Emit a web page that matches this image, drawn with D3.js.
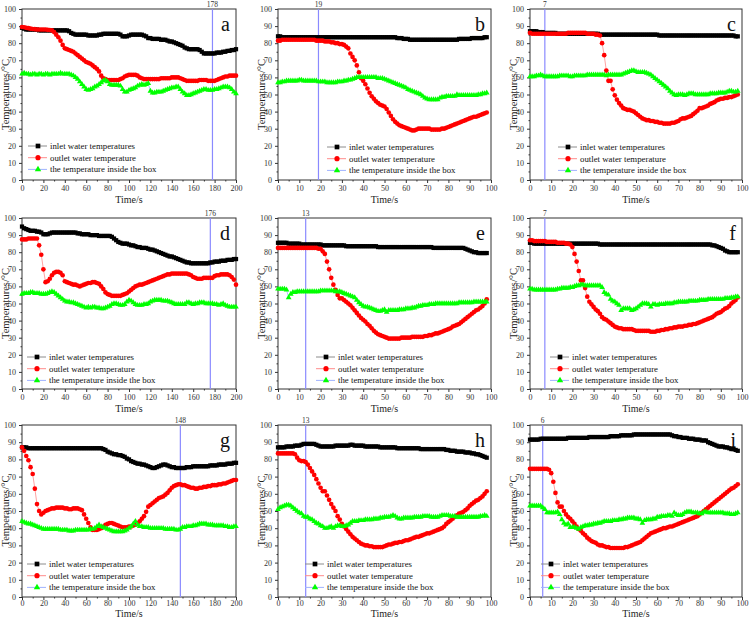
<!DOCTYPE html>
<html>
<head>
<meta charset="utf-8">
<script src="https://cdn.jsdelivr.net/npm/d3@7"></script>
<style>
  html, body { margin: 0; padding: 0; background: #fff; }
  svg { display: block; }
  svg text { font-family: "Liberation Serif", "Times New Roman", Times, serif; }
</style>
</head>
<body>
<svg id="chart" width="750" height="619" font-family="Liberation Serif"></svg>
<script>
// =====================================================
// Data (temperatures in °C)
// =====================================================
const seriesNames = ["inlet water temperatures", "outlet water temperature", "the temperature inside the box"];
const panelLabels = ["a", "b", "c", "d", "e", "f", "g", "h", "i"];
const markerTimes = [178, 19, 7, 176, 13, 7, 148, 13, 6];
const xMaxes      = [200, 100, 100, 200, 100, 100, 200, 100, 100];
const yTicks      = [0, 10, 20, 30, 40, 50, 60, 70, 80, 90, 100];

// sampling grids: long runs every 2 s (0..200), short runs every 1 s (0..98)
const timeLong  = d3.range(0, 201, 2);
const timeShort = d3.range(0, 99, 1);

// ---- a
const inletA = [
  89,88.5,88,88,88,88,88,88,87.5,87.5,
  87.5,87.5,87.5,87.5,87.5,87.5,87.5,87.5,87.5,87.5,
  87.5,87.5,87,86,85.5,85,85,85,85,85,
  85,84.5,84.5,84.5,84.5,84.5,85,85,85.5,85.5,
  85.5,85.5,85.5,85.5,85.5,85.5,85,84,84,84,
  84.5,85,85,85,85,85,85,84.5,84,83,
  83,82.5,82.5,82.5,82.5,82,82,82,81.5,81,
  81,80.5,80,79.5,79,78.5,77.5,77,76.5,76.5,
  76.5,76.5,76.5,76,75,74,74,74,74,74,
  74,74.5,74.5,74.5,75,75,75.5,75.5,76,76,
  76.5];
const outletA = [
  89.5,89.3,89,88.8,88.5,88.3,88.2,88,88,88,
  88,88,87.8,87.7,87.5,86.5,85,83.5,81.5,79,
  77,76.5,76,75.5,75,74,73,72,71,70,
  69,68.5,68,67,66,65,63.5,61,59.5,59,
  58.5,58.5,58.5,58.5,58.5,58.5,59,59.5,60.5,61,
  61.5,61.5,61.5,61.5,61,60,59.5,59,59,59,
  59,59,59,59,59,59.5,59.5,59.5,59.5,59.5,
  60,60,60,60,59.5,59,58.5,58,58,58,
  58,58,58,58.5,58.5,58.5,58.5,58,58,58,
  58,58.5,59,59.5,60,60.5,60.5,61,61,61,
  61];
const boxA = [
  62,62.5,62,62,61.5,62,62,61.5,62,62,
  61.5,62,62,61.5,62,62,62,62,62.5,62,
  62,62,62,61.5,61,60,59,57.5,56,54.5,
  53,52.5,53,53.5,54.5,55,56,57,58,58.5,
  57.5,56,55.5,55.5,55.5,55.5,55,53,51.5,51.5,
  52.5,53,53.5,54,55,55.5,56,55.5,56,56.5,
  52,51,51,51.5,51.5,51.5,52,52.5,53,53.5,
  54,54,54.5,54.5,53,51.5,50.5,49.5,49.5,50,
  50.5,51,51.5,52,52.5,53,53,52.5,52.5,52.5,
  53,53,53.5,54,54.5,54.5,54.5,54,53,51.5,
  50.5];

// ---- b
const inletB = [
  84,84,83.5,83.5,83.5,83.5,83.5,83.5,83.5,83.5,
  83.5,83.5,83.5,83.5,83.5,83.5,83.5,83.5,83.5,83.5,
  83.5,83.5,83.5,83.5,83.5,83.5,83.5,83.5,83.5,83.5,
  83.5,83.5,83.5,83.5,83.5,83.5,83.5,83.5,83.5,83.5,
  83.5,83.5,83.5,83.5,83.5,83.5,83.5,83.5,83.5,83.5,
  83.5,83.5,83.5,83.5,83.5,83.5,83,83,83,82.5,
  82.5,82.5,82,82,82,82,82,82,82,82,
  82,82,82,82,82,82,82,82,82,82,
  82,82,82,82,82,82.5,82.5,82.5,82.5,82.5,
  82.5,83,83,83,83,83,83,83.5,83.5];
const outletB = [
  81.5,81.5,82,82,82,82,82,82,82,82,
  82,82,82,82,82,82,82,82,81.5,81.5,
  81.5,81.5,81,81,81,80.5,80.5,80,80,79.5,
  79.5,79,78,77,74,72,70,67,63,59.5,
  58,56,53.5,51,49,47.5,46,45,44,43.5,
  43,41.5,39.5,37.5,35.5,34,33,32,31.5,31,
  30.5,30,29.5,29,29,29.5,30,30,30,30,
  30,30,29.5,29.5,29.5,29.5,29.5,30,30,30.5,
  31,31.5,32,32.5,33,33.5,34,34.5,35,35.5,
  36,36.5,37,37,37.5,38,38.5,39,39.5];
const boxB = [
  57,57,57.5,57.5,58,58,58,58,58,58,
  58.5,58.5,58,58,58,58,58,58,58,57.5,
  57.5,57.5,57.5,57,57,57,57,57,57.5,57.5,
  57.5,58,58,58.5,58.5,59,59.5,60,60,60,
  60,60,60,60,60,60,60,59.5,59.5,59.5,
  59,58.5,58,57.5,57,56.5,56,55.5,55,54.5,
  54,53,52.5,52,51.5,51,50.5,50,49,48,
  47.5,47,47,47,47,47,48,48.5,48.5,49,
  49,49,49,49,50,49.5,49.5,49.5,49.5,49.5,
  49.5,49.5,49.5,49.5,50,50,50.5,50.5,51];

// ---- c
const inletC = [
  87,87,87,87,86.5,86.5,86.5,86,86,86,
  86,86,86,85.5,85.5,85.5,85.5,85.5,85.5,85.5,
  85.5,85.5,85.5,85.5,85.5,85.5,85.5,85.5,85.5,85.5,
  85.5,85.5,85.5,85,85,85,85,85,85,85,
  85,85,85,85,85,85,85,85,85,85,
  85,85,85,85,85,85,85,85,85,85,
  85,84.5,84.5,84.5,84.5,84.5,84.5,84.5,84.5,84.5,
  84.5,84.5,84.5,84.5,84.5,84.5,84.5,84.5,84.5,84.5,
  84.5,84.5,84.5,84.5,84.5,84.5,84.5,84.5,84.5,84.5,
  84.5,84.5,84.5,84.5,84.5,84.5,84.5,84,84];
const outletC = [
  86,85.5,85.5,85.5,85.5,85.5,85.5,85.5,85.5,85.5,
  85.5,85.5,85.5,85.5,85.5,85.5,85.5,85.5,86,86,
  86,86,86,86,86,86,86,85.5,85.5,85.5,
  85.5,85,85,84.5,80,73,64,58,58,53,
  49.5,47,45,43.5,42,41.5,41,41,40.5,40,
  39,38,37,36,35.5,35,35,34.5,34.5,34,
  34,33.5,33.5,33,33,33,33,33.5,33.5,34,
  34.5,35.5,36,36,36.5,37,37.5,38.5,39.5,40.5,
  42,42,42.5,43,43.5,44.5,45,45.5,46.5,47,
  47.5,47.5,48,48,48.5,48.5,49,49.5,50];
const boxC = [
  60.5,60.5,60.5,61,61,61.5,61,60.5,60.5,60.5,
  60.5,60.5,60.5,60.5,61,61,61,61,61,60.5,
  60.5,61,61,61,61,61,61,61.5,61.5,61.5,
  61.5,61.5,61.5,61.5,61.5,61.5,61,61.5,61.5,61.5,
  61.5,61.5,61.5,61.5,62,62.5,63,63.5,64,64,
  63.5,63,63,63,63,62.5,62,61.5,60.5,59.5,
  58.5,57.5,56.5,55.5,54.5,53.5,52,51,50,49.5,
  50,50,50,49.5,50,50.5,50.5,50.5,50,50,
  50,50,50,50,50,50.5,50.5,50.5,50.5,51,
  51,51,51,51.5,52,52,51.5,51.5,52];

// ---- d
const inletD = [
  95,94,93.5,93,92.5,92.5,92.5,92,92,91.5,
  90.5,90.5,90.5,91,91.5,91.5,91.5,91.5,91.5,91.5,
  91.5,91.5,91.5,91.5,91.5,91.5,91,91,90.5,90.5,
  90.5,90.5,90,90,90,90,89.5,89.5,89.5,89.5,
  89.5,89.5,89,88,87,86,85.5,85,85,85,
  84.5,84,84,83.5,83,83,82.5,82.5,82.5,82,
  81.5,81.5,81,80.5,80,79.5,79,78.5,78,77.5,
  77.5,77,76.5,76,75.5,75,74.5,74,74,73.5,
  73.5,73.5,73.5,73.5,73.5,73.5,73.5,73.5,74,74,
  74.5,74.5,74.5,75,75,75,75.5,75.5,75.5,76,
  76];
const outletD = [
  87.5,87.5,87.5,88,88,88,88,88,84,78.5,
  70,62.5,63,64.5,66.5,68,68.5,68.5,68,66.5,
  63,62.5,62,61.5,61,61,60.5,60,60.5,61,
  61.5,62,62,62.5,62.5,62,61.5,60,58.5,56.5,
  55.5,55,54.5,54.5,54.5,54.5,54.5,55,55.5,56,
  57,58,59,60,60.5,61,61,61.5,62,62.5,
  63,63.5,64,64.5,65,65.5,66,66.5,67,67,
  67.5,67.5,67.5,67.5,67.5,67.5,67.5,67.5,67,66.5,
  65.5,65,64.5,64.5,64.5,65,65,65,65,65,
  66,66.5,66.5,67,67,67,67,66.5,65.5,64,
  61];
const boxD = [
  55.5,56,56,56,56.5,56.5,56,56,56,55.5,
  55.5,55.5,56,56.5,57,56.5,55.5,54.5,53.5,52.5,
  51.5,51,51,50.5,50.5,50,49.5,49,48.5,48,
  47.5,48,47.5,48,48,47.5,47.5,47,47,47.5,
  48,48.5,49.5,50,50,49.5,49,49,49.5,51,
  52,51.5,50.5,49.5,49,49,49,49.5,49.5,50,
  51,51.5,52,52,52,52,51.5,51.5,51.5,51,
  50.5,50,49.5,49.5,49.5,49.5,49.5,50.5,50.5,50,
  49.5,50,50,50.5,50.5,50.5,50,50,50,50,
  49.5,49.5,49,49.5,50,49,48.5,48,48,48,
  48];

// ---- e
const inletE = [
  85.5,85.5,85.5,85.5,85.5,85,85,85,85,85,
  85,84.5,84.5,84.5,84.5,84.5,84.5,84.5,84.5,84.5,
  84.5,84,84,84,84,84,84,84,84,84,
  84,84,83.5,83.5,83.5,83.5,83.5,83.5,83.5,83.5,
  83.5,83.5,83.5,83.5,83.5,83.5,83.5,83,83,83,
  83,83,83,83,83,83,83,83,83,83,
  83,83,83,83,83,83,83,83,83,83,
  83,83,83,82.5,82.5,82.5,82.5,82.5,82.5,82.5,
  82.5,82.5,82.5,82.5,82.5,82.5,82.5,82.5,82,81.5,
  81,80.5,80,80,79.5,79.5,79.5,79.5,79.5];
const outletE = [
  82.5,82.5,82.5,82.5,82.5,82.5,82.5,82.5,82.5,82.5,
  82.5,82.5,82.5,82.5,82.5,82.5,82.5,82.5,82.5,82,
  82,80.5,79,74.5,70,65,61,58,55,53,
  53,52,51,50,49,47.5,46,44.5,43,41.5,
  40.5,39.5,38,37,35.5,34,33,32,31.5,31,
  30.5,30,29.5,29.5,29.5,29.5,29.5,29.5,30,30,
  30,30,30,30.5,30.5,30.5,30.5,30.5,30.5,31,
  31,31.5,31.5,32,32.5,32.5,33,33.5,34,34.5,
  35,35.5,36.5,37,37.5,38,39,40,41,42,
  43,44,45,46,46.5,47.5,48.5,50,52.5];
const boxE = [
  58.5,58.5,58.5,58.5,58,53.5,55.5,56.5,56.5,57,
  57,57,57,57,57,57,57,57,57,57,
  57.5,57.5,57.5,57.5,57.5,57.5,57.5,57,57,57,
  56.5,56,55.5,55,54.5,54,53.5,52,50.5,49.5,
  48.5,48,48,47.5,47,46.5,46,45.5,45.5,46,
  46.5,45,46,46,46,46,46,46.5,46.5,46.5,
  47,47,47,47.5,47.5,48,48.5,48.5,49,49,
  49,49.5,49.5,49.5,50,50,50,50,50,50,
  50,50,50,50,50,50.5,50.5,50.5,50.5,50.5,
  50.5,50.5,51,51,51,51,51,51,51];

// ---- f
const inletF = [
  85.5,85.5,85,85,85,85,85,85,85,85,
  85,85,85,85,85,85,85,85,85,85,
  85,85,85,85,85,85,85,85,85,85,
  85,85,85,84.5,84.5,84.5,84.5,84.5,84.5,84.5,
  84.5,84.5,84.5,84.5,84.5,84.5,84.5,84.5,84.5,84.5,
  84.5,84.5,84.5,84.5,84.5,84.5,84.5,84.5,84.5,84.5,
  84.5,84.5,84.5,84.5,84.5,84.5,84.5,84.5,84.5,84.5,
  84.5,84.5,84.5,84.5,84.5,84.5,84.5,84.5,84.5,84.5,
  84.5,84.5,84.5,84.5,84.5,84.5,84,84,83.5,83,
  82.5,82,81,80.5,80,80,80,80,80];
const outletF = [
  87,87,86.5,86.5,86.5,86.5,86.5,86.5,86,86,
  86,86,86,85.5,85.5,85.5,85.5,85,85,84.5,
  83,79,74.5,69,63.5,63.5,59,54,51,49.5,
  48,46.5,45.5,44,42,41,40.5,39.5,38.5,37.5,
  36.5,36,35.5,35.5,35,35,35,35,35,34.5,
  34,34,34,34,34,34,34,33.5,33.5,33.5,
  34,34,34.5,34.5,35,35,35.5,35.5,36,36,
  36.5,36.5,36.5,37,37,37.5,37.5,38,38,38.5,
  39,39.5,40,40.5,41,41.5,42,43,44,44.5,
  45,46,47,47.5,48.5,50,51,52,53.5];
const boxF = [
  58.5,58.5,58,58,58,58,58,58,58,58,
  58,58,58,58.5,58.5,59,59,59,59,59.5,
  59.5,60,60.5,60.5,61,61,60.5,60.5,60.5,60.5,
  60.5,60.5,60.5,60.5,59.5,56.5,55.5,55,52.5,51.5,
  51,50,49,46,47,47,47,47,46,46.5,
  47,48,49,50,50,50,49.5,48,49.5,49.5,
  49,49.5,49.5,49.5,50,50,50,50,50.5,50.5,
  51,51,51,51,51,51.5,51.5,51.5,51.5,51.5,
  52,52,52,52,52.5,52.5,52.5,52.5,52.5,52.5,
  52.5,52.5,53,53,53,53.5,53.5,54,54];

// ---- g
const inletG = [
  87,87,87,86.5,86.5,86.5,86.5,86.5,86.5,86.5,
  86.5,86.5,86.5,86.5,86.5,86.5,86.5,86.5,86.5,86.5,
  86.5,86.5,86.5,86.5,86.5,86.5,86.5,86.5,86.5,86.5,
  86.5,86.5,86.5,86.5,86.5,86.5,86.5,86.5,86,85.5,
  84.5,84,83.5,83,83,82.5,82.5,82,81.5,80.5,
  80,79,78.5,78,77.5,77.5,77,77,76.5,76,
  75.5,75,75,75.5,76,76.5,77,77,76.5,76,
  75.5,75.5,75,75,75,75,75,75.5,75.5,75.5,
  76,76,76,76,76,76,76,76,76.5,76.5,
  76.5,76.5,77,77,77,77,77.5,77.5,77.5,78,
  78];
const outletG = [
  87,85,82,79.5,75.5,71.5,63,54,50,48,
  49,50,50.5,51,51.5,51.5,52,52,52,52,
  51.5,51.5,51,51,51.5,51.5,51.5,51,50.5,48,
  45.5,43,40.5,39,39,39,39.5,40,41,42,
  42.5,43,43,42.5,42,41.5,41,40.5,40.5,40.5,
  41,41,41.5,42,43,44,45.5,47,49.5,52.5,
  53.5,54.5,55.5,56.5,57.5,58,58.5,59.5,60.5,62,
  63.5,64.5,65,65.5,65.5,65,65,64.5,64,63.5,
  63.5,63,63,63.5,63.5,64,64,64.5,64.5,65,
  65,65,65.5,65.5,66,66,66.5,67,67.5,68,
  68];
const boxG = [
  44,43.5,43,42.5,42.5,42,41.5,41,40.5,40,
  39.5,39.5,39.5,39.5,39.5,39.5,39.5,39.5,39,39,
  39,39,38.5,38.5,38.5,39,39,39,39,39,
  39,39,39.5,39.5,40,41,42,41,40.5,40,
  39.5,39,38.5,38,38,38,38,38,38.5,39,
  40,41,42.5,44,42,41,41,40.5,40.5,40.5,
  40,40,40,40,40,40,40,39.5,39.5,39.5,
  39.5,39.5,39,39,39.5,40.5,40.5,41,41,41,
  41.5,41.5,42,42.5,42.5,42.5,42.5,42,42,42,
  41.5,41.5,41.5,41.5,41.5,41,41,40.5,40.5,41,
  41];

// ---- h
const inletH = [
  87,87,87,87,87.5,87.5,87.5,87.5,88,88,
  88,88.5,89,89,89,89,89,89,88.5,88,
  87.5,87.5,87.5,87.5,87.5,87.5,87.5,88,88,88,
  88,88,88,88,88.5,88.5,88,88,88,88,
  88,87.5,87.5,87.5,87.5,87.5,87.5,87.5,87,87,
  87,87,87,87,87,87,86.5,86.5,86.5,86.5,
  86.5,86.5,86.5,86.5,86.5,86.5,86.5,86,86,86,
  86,86,86,86,86,86,86,86,86,85.5,
  85.5,85,85,85,84.5,84.5,84.5,84.5,84,84,
  84,83.5,83.5,83,83,82.5,82,81.5,81];
const outletH = [
  83.5,83.5,83.5,83.5,83.5,83.5,83.5,83.5,83,81,
  79.5,79,79,78.5,77,75,73,71,68.5,66,
  63.5,61.5,61.5,59,56.5,54,52,50,47,45,
  42.5,41,39.5,38,36.5,35,34,33,32,31,
  30.5,30,30,29.5,29.5,29,29,29,29,29,
  29.5,30,30.5,30.5,31,31.5,31.5,32,32,32.5,
  33,33,33.5,34,34.5,35,35,35.5,36,36.5,
  37,37,37.5,38,38.5,39,39.5,40,41,42.5,
  43.5,44.5,45.5,46.5,47.5,48.5,49,49.5,50.5,51.5,
  53,54,55,56,56.5,57.5,58.5,60,61.5];
const boxH = [
  51,52,52.5,53,53.5,53.5,53,52,51,50,
  49,48.5,47,46.5,46.5,45.5,45,44,43,42.5,
  41.5,41,40,40,40.5,41,40,41,41.5,41.5,
  41,41,41.5,42,43,44,44,44,44.5,44.5,
  44.5,45,45,45,45,45.5,45.5,45.5,46,46,
  46.5,46.5,46.5,47,47.5,47,46,45.5,45.5,46,
  46,46,46,46,46.5,46.5,46.5,46.5,47,47,
  47,47,46.5,46.5,46.5,46.5,47,47.5,47.5,47.5,
  47.5,47,47,47,46.5,46.5,46.5,46.5,46.5,46.5,
  46.5,46.5,46.5,46.5,46.5,47,47,47.5,47];

// ---- i
const inletI = [
  91.5,91.5,91.5,91.5,91.5,92,92,92,92,92,
  92,92,92,92,92,92,92,92,92.5,92.5,
  92.5,92.5,92.5,92.5,92.5,92.5,92.5,92.5,93,93,
  93,93,93,93,93,93,93,93,93.5,93.5,
  93.5,93.5,93.5,94,94,94,94,94,94,94.5,
  94.5,94.5,94.5,94.5,94.5,94.5,94.5,94.5,94.5,94.5,
  94.5,94.5,94.5,94.5,94.5,94.5,94.5,94,93.5,93.5,
  93,93,92.5,92.5,92.5,92,92,92,91.5,91.5,
  91.5,91,91,91,90,89.5,89,88.5,88,87.5,
  87.5,87.5,87,87,86.5,86,86,85.5,85];
const outletI = [
  74.5,74.5,74.5,74.5,74.5,74.5,74.5,74.5,74.5,74,
  72,67,60.5,55,52.5,52.5,50,48,46.5,45.5,
  44,42.5,41,39.5,38.5,37,36,34.5,33.5,32.5,
  32,31.5,30.5,30,30,29.5,29,29,28.5,28.5,
  28.5,28.5,28.5,28.5,28.5,29,29,29.5,30,30.5,
  31,31.5,32,33,34,35,36,37,37.5,38,
  38.5,39,39.5,40,40,40.5,41,41,41.5,42,
  42.5,43,43.5,44,44.5,45,45.5,46,46.5,47,
  48,49,50,51,52,53,54,55,56,57,
  58,59,60,61,62,63,63.5,64.5,65.5];
const boxI = [
  53,53,53,53,53,53,52,51,49,49,
  49,49,49,49.5,48,45,43,42,42.5,40.5,
  40.5,40.5,40,39.5,40.5,41,41.5,41.5,42,42,
  42.5,42.5,43,43,43.5,44,44,44,44,44.5,
  44.5,44.5,45,45,45.5,45.5,46,46,46,46,
  45.5,45.5,45,43,44.5,45,45,45,45.5,45.5,
  46.5,46.5,47,47,47,47.5,47.5,47,49,48,
  47.5,47.5,48,49,49.5,49.5,49.5,49,49,49,
  48.5,48.5,49.5,49.5,49,49,49,49,49,49,
  49,49,48.5,48.5,48.5,48,48,48.5,49];

const inletSeries  = [inletA, inletB, inletC, inletD, inletE, inletF, inletG, inletH, inletI];
const outletSeries = [outletA, outletB, outletC, outletD, outletE, outletF, outletG, outletH, outletI];
const boxSeries    = [boxA, boxB, boxC, boxD, boxE, boxF, boxG, boxH, boxI];


// =====================================================
// Layout / styles
// =====================================================
const colLeft   = [22, 278, 530];
const colRight  = [236, 491, 742];
const rowTop    = [9, 218, 425];
const rowBottom = [180, 389, 597];
/** offsets of tick labels / axis title under each row (the bottom row is squeezed) */
const rowTickPad   = [2, 2, 0];
const rowTitleDrop = [22.5, 22.5, 19.5];
/** legend text start (absolute x) and first legend row (absolute y) per panel */
const legendX = [50, 349, 580, 49, 338, 572, 49, 327, 563];
const legendY = [146, 147, 147, 357, 357, 357, 564, 564, 564];

const styles = [
  { fill: "#000000", line: "#8c8c8c", symbol: d3.symbolSquare,   size: 18 },
  { fill: "#ff0000", line: "#ff8c8c", symbol: d3.symbolCircle,   size: 17 },
  { fill: "#00ff00", line: "#9fb2ff", symbol: d3.symbolTriangle, size: 14 }
];

const svg = d3.select("#chart");

panelLabels.forEach((label, i) => {
  const col = i % 3, row = Math.floor(i / 3);
  const L = colLeft[col], R = colRight[col], T = rowTop[row], B = rowBottom[row];
  const xMax = xMaxes[i];
  const time = xMax === 200 ? timeLong : timeShort;

  const x = d3.scaleLinear().domain([0, xMax]).range([L, R]);
  const y = d3.scaleLinear().domain([0, 100]).range([B, T]);
  const g = svg.append("g").attr("class", "panel-" + label);

  // ----------
  // Axes
  // =================
  const xStep = xMax / 10;
  const xMajor = d3.range(0, xMax + 1, xStep);
  const xMinor = d3.range(xStep / 2, xMax, xStep);
  const yMinor = d3.range(5, 100, 10);

  const styleAxis = sel => {
    sel.attr("font-family", null).attr("font-size", 8);
    sel.select(".domain").remove();
    sel.selectAll("line").attr("stroke", "#333");
    sel.selectAll("text").attr("fill", "#333");
  };

  g.append("g")
    .attr("transform", `translate(0,${B})`)
    .call(d3.axisBottom(x).tickValues(xMajor).tickSize(3).tickPadding(rowTickPad[row]).tickFormat(d3.format("d")))
    .call(styleAxis);
  g.append("g")
    .attr("transform", `translate(0,${B})`)
    .call(d3.axisBottom(x).tickValues(xMinor).tickSize(1.5).tickFormat(""))
    .call(styleAxis);
  g.append("g")
    .attr("transform", `translate(${L},0)`)
    .call(d3.axisLeft(y).tickValues(yTicks).tickSize(3).tickPadding(3))
    .call(styleAxis);
  g.append("g")
    .attr("transform", `translate(${L},0)`)
    .call(d3.axisLeft(y).tickValues(yMinor).tickSize(1.5).tickFormat(""))
    .call(styleAxis);

  g.append("rect")
    .attr("x", L).attr("y", T)
    .attr("width", R - L).attr("height", B - T)
    .attr("fill", "none")
    .attr("stroke", "#333")
    .attr("stroke-width", 1);

  // axis titles
  g.append("text")
    .attr("x", (L + R) / 2).attr("y", B + rowTitleDrop[row])
    .attr("text-anchor", "middle")
    .attr("font-size", 10)
    .attr("fill", "#222")
    .text("Time/s");
  g.append("text")
    .attr("transform", `translate(${L - 17},${(T + B) / 2}) rotate(-90)`)
    .attr("text-anchor", "middle")
    .attr("dy", "0.35em")
    .attr("font-size", 10.5)
    .attr("fill", "#222")
    .text("Temperatures/\u00B0C");

  // ----------
  // Vertical marker line
  // =================
  const mt = markerTimes[i];
  g.append("line")
    .attr("x1", x(mt)).attr("x2", x(mt))
    .attr("y1", T).attr("y2", B)
    .attr("stroke", "#8a8aff")
    .attr("stroke-width", 1.2);
  g.append("text")
    .attr("x", x(mt)).attr("y", T - 2)
    .attr("text-anchor", "middle")
    .attr("font-size", 7.5)
    .attr("fill", "#333")
    .text(mt);

  // ----------
  // Series
  // =================
  const allSeries = [inletSeries[i], outletSeries[i], boxSeries[i]];
  allSeries.forEach((values, s) => {
    const pts = time.map((t, k) => ({ t, v: values[k] })).filter(d => d.v !== undefined);
    g.append("path")
      .datum(pts)
      .attr("fill", "none")
      .attr("stroke", styles[s].line)
      .attr("stroke-width", 0.8)
      .attr("d", d3.line().x(d => x(d.t)).y(d => y(d.v)));
    g.selectAll(".pt" + s)
      .data(pts)
      .enter()
      .append("path")
      .attr("class", "pt" + s)
      .attr("transform", d => `translate(${x(d.t)},${y(d.v)})`)
      .attr("d", d3.symbol(styles[s].symbol, styles[s].size))
      .attr("fill", styles[s].fill);
  });

  // ----------
  // Legend
  // =================
  seriesNames.forEach((name, s) => {
    const ly = legendY[i] + s * 11.7;
    const mx = legendX[i] - 12;
    g.append("line")
      .attr("x1", mx - 10).attr("x2", mx + 9)
      .attr("y1", ly).attr("y2", ly)
      .attr("stroke", styles[s].line)
      .attr("stroke-width", 1);
    g.append("path")
      .attr("transform", `translate(${mx},${ly})`)
      .attr("d", d3.symbol(styles[s].symbol, styles[s].size + 4))
      .attr("fill", styles[s].fill);
    g.append("text")
      .attr("x", legendX[i]).attr("y", ly)
      .attr("dy", "0.35em")
      .attr("font-size", 8.8)
      .attr("fill", "#111")
      .text(name);
  });

  // panel letter
  g.append("text")
    .attr("x", R - 6).attr("y", T + 22)
    .attr("text-anchor", "end")
    .attr("font-size", 20)
    .attr("fill", "#111")
    .text(label);
});
</script>
</body>
</html>
